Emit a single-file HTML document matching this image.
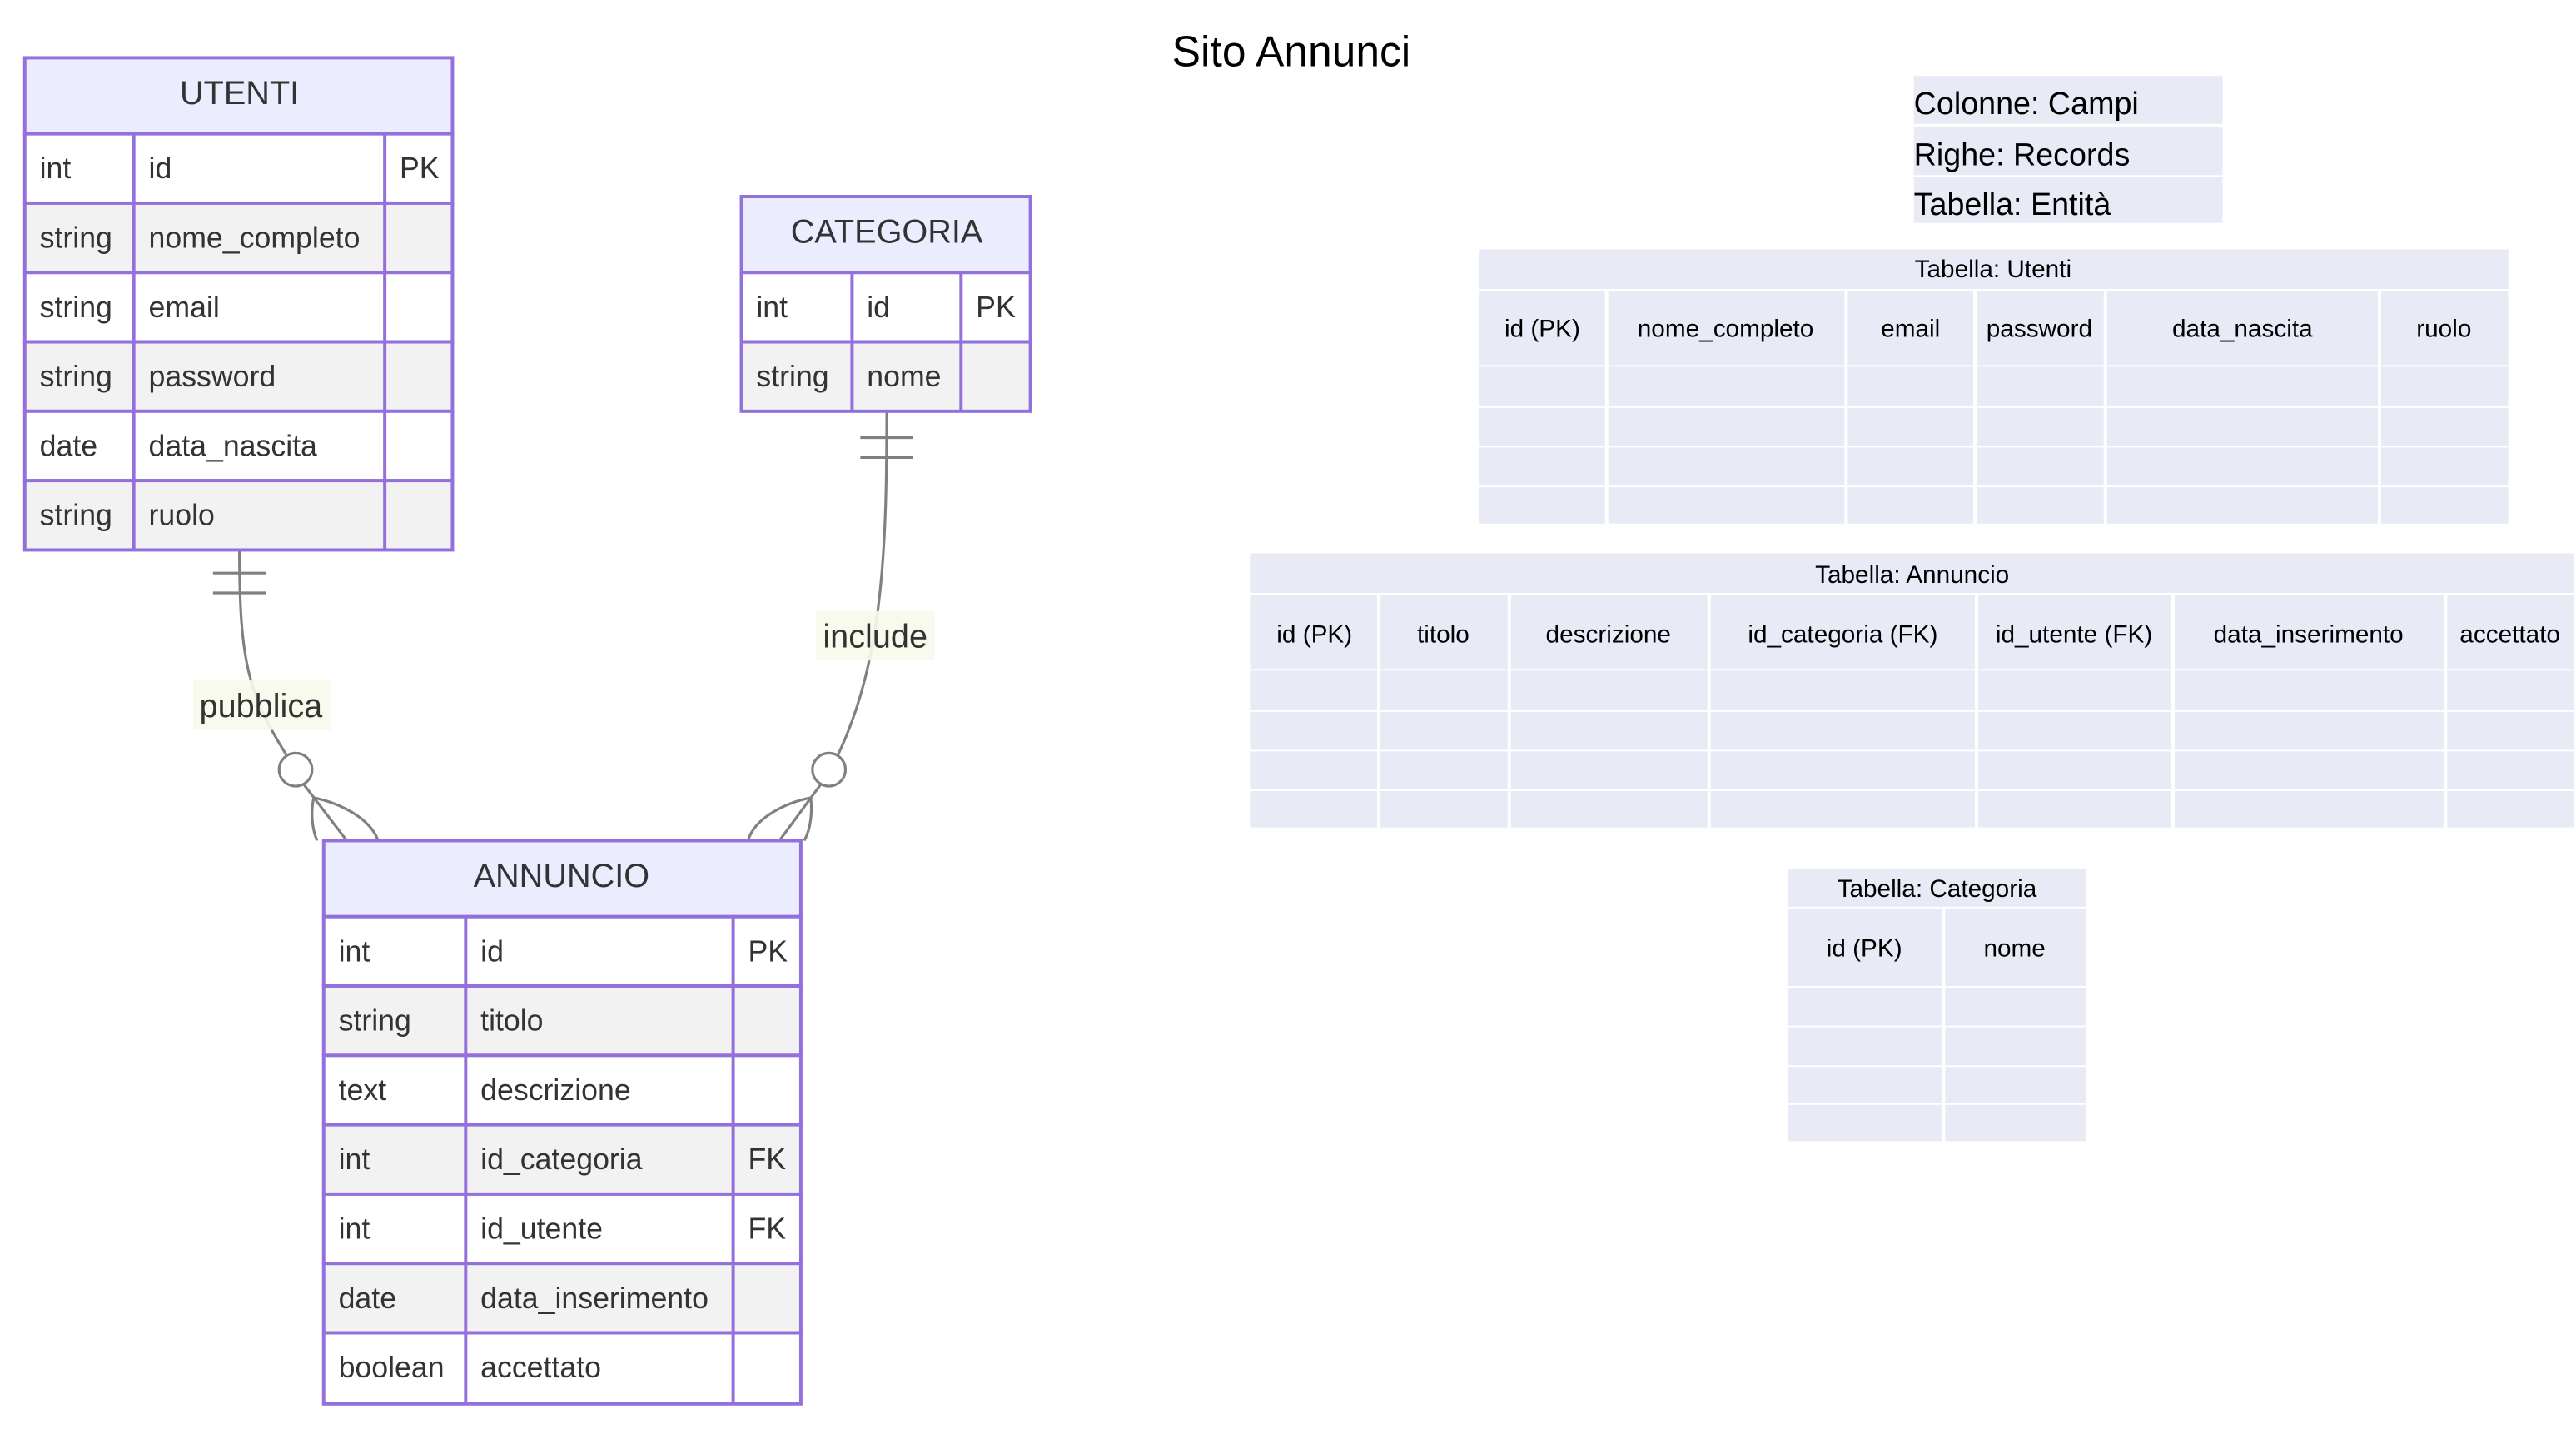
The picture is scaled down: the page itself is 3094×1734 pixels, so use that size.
<!DOCTYPE html>
<html><head><meta charset="utf-8"><style>
html,body{margin:0;padding:0;background:#fff;}
svg{display:block;}
.e{font-family:"Liberation Sans","DejaVu Sans",sans-serif;font-size:18px;fill:#333;}
.h{font-family:"Liberation Sans","DejaVu Sans",sans-serif;font-size:20px;fill:#333;text-anchor:middle;}
.t{font-family:"Liberation Sans","DejaVu Sans",sans-serif;font-size:15px;fill:#000;text-anchor:middle;}
.l{font-family:"Liberation Sans","DejaVu Sans",sans-serif;font-size:19px;fill:#000;}
</style></head><body>
<svg width="3094" height="1734" viewBox="0 0 1560 874.3" xmlns="http://www.w3.org/2000/svg">
<text x="782" y="40" style="font-family:'Liberation Sans',sans-serif;font-size:26px;fill:#000" text-anchor="middle">Sito Annunci</text>

<!-- connectors -->
<g fill="none" stroke="#808080" stroke-width="1.6">
<path d="M145,333 C145,400 150,420 174,458"/>
<line x1="129" y1="347" x2="161" y2="347"/><line x1="129" y1="359" x2="161" y2="359"/>
<circle cx="179" cy="466" r="10" fill="#fff"/>
<path d="M184,475 L210,509"/>
<path d="M190,483 C188,492 189,502 192,509"/>
<path d="M190,483 C205,486 224,495 229,509"/>
<path d="M537,249 C537,330 535,400 507,458"/>
<line x1="521" y1="265" x2="553" y2="265"/><line x1="521" y1="277" x2="553" y2="277"/>
<circle cx="502" cy="466" r="10" fill="#fff"/>
<path d="M497,475 L472,509"/>
<path d="M491,483 C492,492 491,502 487,509"/>
<path d="M491,483 C476,486 457,495 453,509"/>
</g>
<rect x="117" y="412" width="83" height="30" fill="#f6f9ea" opacity="0.9"/>
<text x="158" y="434" class="e" style="font-size:20px" text-anchor="middle">pubblica</text>
<rect x="494" y="370" width="72" height="30" fill="#f6f9ea" opacity="0.9"/>
<text x="530" y="392" class="e" style="font-size:20px" text-anchor="middle">include</text>

<!-- UTENTI -->
<g stroke="#9370db" stroke-width="2">
<rect x="15" y="35" width="259" height="46" fill="#ececff"/>
<rect x="15" y="81" width="259" height="42" fill="#fff"/>
<rect x="15" y="123" width="259" height="42" fill="#f2f2f2"/>
<rect x="15" y="165" width="259" height="42" fill="#fff"/>
<rect x="15" y="207" width="259" height="42" fill="#f2f2f2"/>
<rect x="15" y="249" width="259" height="42" fill="#fff"/>
<rect x="15" y="291" width="259" height="42" fill="#f2f2f2"/>
<line x1="81" y1="81" x2="81" y2="333"/><line x1="233" y1="81" x2="233" y2="333"/>
</g>
<text x="145" y="63" class="h">UTENTI</text>
<g class="e">
<text x="24" y="108">int</text><text x="90" y="108">id</text><text x="242" y="108">PK</text>
<text x="24" y="150">string</text><text x="90" y="150">nome_completo</text>
<text x="24" y="192">string</text><text x="90" y="192">email</text>
<text x="24" y="234">string</text><text x="90" y="234">password</text>
<text x="24" y="276">date</text><text x="90" y="276">data_nascita</text>
<text x="24" y="318">string</text><text x="90" y="318">ruolo</text>
</g>

<!-- CATEGORIA -->
<g stroke="#9370db" stroke-width="2">
<rect x="449" y="119" width="175" height="46" fill="#ececff"/>
<rect x="449" y="165" width="175" height="42" fill="#fff"/>
<rect x="449" y="207" width="175" height="42" fill="#f2f2f2"/>
<line x1="516" y1="165" x2="516" y2="249"/><line x1="582" y1="165" x2="582" y2="249"/>
</g>
<text x="537" y="147" class="h">CATEGORIA</text>
<g class="e">
<text x="458" y="192">int</text><text x="525" y="192">id</text><text x="591" y="192">PK</text>
<text x="458" y="234">string</text><text x="525" y="234">nome</text>
</g>

<!-- ANNUNCIO -->
<g stroke="#9370db" stroke-width="2">
<rect x="196" y="509" width="289" height="46" fill="#ececff"/>
<rect x="196" y="555" width="289" height="42" fill="#fff"/>
<rect x="196" y="597" width="289" height="42" fill="#f2f2f2"/>
<rect x="196" y="639" width="289" height="42" fill="#fff"/>
<rect x="196" y="681" width="289" height="42" fill="#f2f2f2"/>
<rect x="196" y="723" width="289" height="42" fill="#fff"/>
<rect x="196" y="765" width="289" height="42" fill="#f2f2f2"/>
<rect x="196" y="807" width="289" height="43" fill="#fff"/>
<line x1="282" y1="555" x2="282" y2="850"/><line x1="444" y1="555" x2="444" y2="850"/>
</g>
<text x="340" y="537" class="h">ANNUNCIO</text>
<g class="e">
<text x="205" y="582">int</text><text x="291" y="582">id</text><text x="453" y="582">PK</text>
<text x="205" y="624">string</text><text x="291" y="624">titolo</text>
<text x="205" y="666">text</text><text x="291" y="666">descrizione</text>
<text x="205" y="708">int</text><text x="291" y="708">id_categoria</text><text x="453" y="708">FK</text>
<text x="205" y="750">int</text><text x="291" y="750">id_utente</text><text x="453" y="750">FK</text>
<text x="205" y="792">date</text><text x="291" y="792">data_inserimento</text>
<text x="205" y="834">boolean</text><text x="291" y="834">accettato</text>
</g>

<!-- legend -->
<g fill="#e8eaf6">
<rect x="1159" y="46" width="187" height="29"/>
<rect x="1159" y="77" width="187" height="29"/>
<rect x="1159" y="107" width="187" height="28"/>
</g>
<g class="l">
<text x="1159" y="69">Colonne: Campi</text>
<text x="1159" y="100">Righe: Records</text>
<text x="1159" y="130">Tabella: Entità</text>
</g>

<!-- Tabella Utenti -->
<g fill="#e8eaf6">
<rect x="896" y="151" width="623" height="24"/>
<g id="ur">
<rect x="896" y="176" width="76" height="45"/><rect x="974" y="176" width="143" height="45"/><rect x="1119" y="176" width="76" height="45"/><rect x="1197" y="176" width="77" height="45"/><rect x="1276" y="176" width="164" height="45"/><rect x="1442" y="176" width="77" height="45"/>
</g>
<rect x="896" y="222" width="76" height="24"/><rect x="974" y="222" width="143" height="24"/><rect x="1119" y="222" width="76" height="24"/><rect x="1197" y="222" width="77" height="24"/><rect x="1276" y="222" width="164" height="24"/><rect x="1442" y="222" width="77" height="24"/>
<rect x="896" y="247" width="76" height="23"/><rect x="974" y="247" width="143" height="23"/><rect x="1119" y="247" width="76" height="23"/><rect x="1197" y="247" width="77" height="23"/><rect x="1276" y="247" width="164" height="23"/><rect x="1442" y="247" width="77" height="23"/>
<rect x="896" y="271" width="76" height="23"/><rect x="974" y="271" width="143" height="23"/><rect x="1119" y="271" width="76" height="23"/><rect x="1197" y="271" width="77" height="23"/><rect x="1276" y="271" width="164" height="23"/><rect x="1442" y="271" width="77" height="23"/>
<rect x="896" y="295" width="76" height="22"/><rect x="974" y="295" width="143" height="22"/><rect x="1119" y="295" width="76" height="22"/><rect x="1197" y="295" width="77" height="22"/><rect x="1276" y="295" width="164" height="22"/><rect x="1442" y="295" width="77" height="22"/>
</g>
<g class="t">
<text x="1207" y="168">Tabella: Utenti</text>
<text x="934" y="204">id (PK)</text><text x="1045" y="204">nome_completo</text><text x="1157" y="204">email</text><text x="1235" y="204">password</text><text x="1358" y="204">data_nascita</text><text x="1480" y="204">ruolo</text>
</g>

<!-- Tabella Annuncio -->
<g fill="#e8eaf6">
<rect x="757" y="335" width="802" height="24"/>
<rect x="757" y="360" width="77" height="45"/><rect x="836" y="360" width="77" height="45"/><rect x="915" y="360" width="119" height="45"/><rect x="1036" y="360" width="160" height="45"/><rect x="1198" y="360" width="117" height="45"/><rect x="1317" y="360" width="163" height="45"/><rect x="1482" y="360" width="77" height="45"/>
<rect x="757" y="406" width="77" height="24"/><rect x="836" y="406" width="77" height="24"/><rect x="915" y="406" width="119" height="24"/><rect x="1036" y="406" width="160" height="24"/><rect x="1198" y="406" width="117" height="24"/><rect x="1317" y="406" width="163" height="24"/><rect x="1482" y="406" width="77" height="24"/>
<rect x="757" y="431" width="77" height="23"/><rect x="836" y="431" width="77" height="23"/><rect x="915" y="431" width="119" height="23"/><rect x="1036" y="431" width="160" height="23"/><rect x="1198" y="431" width="117" height="23"/><rect x="1317" y="431" width="163" height="23"/><rect x="1482" y="431" width="77" height="23"/>
<rect x="757" y="455" width="77" height="23"/><rect x="836" y="455" width="77" height="23"/><rect x="915" y="455" width="119" height="23"/><rect x="1036" y="455" width="160" height="23"/><rect x="1198" y="455" width="117" height="23"/><rect x="1317" y="455" width="163" height="23"/><rect x="1482" y="455" width="77" height="23"/>
<rect x="757" y="479" width="77" height="22"/><rect x="836" y="479" width="77" height="22"/><rect x="915" y="479" width="119" height="22"/><rect x="1036" y="479" width="160" height="22"/><rect x="1198" y="479" width="117" height="22"/><rect x="1317" y="479" width="163" height="22"/><rect x="1482" y="479" width="77" height="22"/>
</g>
<g class="t">
<text x="1158" y="353">Tabella: Annuncio</text>
<text x="796" y="389">id (PK)</text><text x="874" y="389">titolo</text><text x="974" y="389">descrizione</text><text x="1116" y="389">id_categoria (FK)</text><text x="1256" y="389">id_utente (FK)</text><text x="1398" y="389">data_inserimento</text><text x="1520" y="389">accettato</text>
</g>

<!-- Tabella Categoria -->
<g fill="#e8eaf6">
<rect x="1083" y="526" width="180" height="23"/>
<rect x="1083" y="550" width="93" height="47"/><rect x="1178" y="550" width="85" height="47"/>
<rect x="1083" y="598" width="93" height="23"/><rect x="1178" y="598" width="85" height="23"/>
<rect x="1083" y="622" width="93" height="23"/><rect x="1178" y="622" width="85" height="23"/>
<rect x="1083" y="646" width="93" height="22"/><rect x="1178" y="646" width="85" height="22"/>
<rect x="1083" y="669" width="93" height="22"/><rect x="1178" y="669" width="85" height="22"/>
</g>
<g class="t">
<text x="1173" y="543">Tabella: Categoria</text>
<text x="1129" y="579">id (PK)</text><text x="1220" y="579">nome</text>
</g>
</svg>
</body></html>
